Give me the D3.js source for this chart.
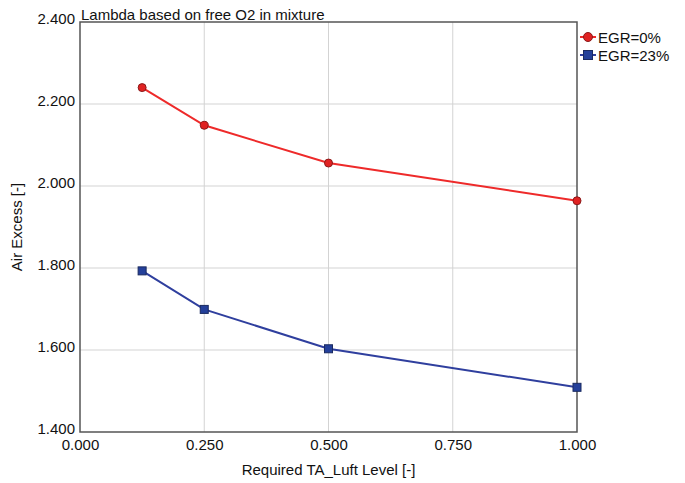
<!DOCTYPE html>
<html><head><meta charset="utf-8">
<script src="https://cdn.jsdelivr.net/npm/d3@7"></script>
<style>body{margin:0;background:#fff}svg{display:block;font-family:"Liberation Sans",Arial,sans-serif}</style>
</head><body>
<svg id="c" width="685" height="483"></svg>
<script>
const xValues = [0.125, 0.25, 0.5, 1.0];
const egr0 = [2.240, 2.148, 2.056, 1.964];
const egr23 = [1.793, 1.699, 1.603, 1.509];
const seriesNames = ["EGR=0%", "EGR=23%"];
const xTicks = [0, 0.25, 0.5, 0.75, 1.0];
const yTicks = [1.4, 1.6, 1.8, 2.0, 2.2, 2.4];

const svg = d3.select("#c");
const L = 80, R = 577, T = 22, B = 432;
const x = d3.scaleLinear().domain([0, 1]).range([L, R]);
const y = d3.scaleLinear().domain([1.4, 2.4]).range([B, T]);

// grid
svg.append("g").selectAll("line").data(xTicks.slice(1, -1)).join("line")
  .attr("x1", d => x(d)).attr("x2", d => x(d)).attr("y1", T).attr("y2", B)
  .attr("stroke", "#d3d3d3").attr("stroke-width", 1);
svg.append("g").selectAll("line").data(yTicks.slice(1, -1)).join("line")
  .attr("x1", L).attr("x2", R).attr("y1", d => y(d)).attr("y2", d => y(d))
  .attr("stroke", "#d3d3d3").attr("stroke-width", 1);

// frame
svg.append("rect").attr("x", L).attr("y", T).attr("width", R - L).attr("height", B - T)
  .attr("fill", "none").attr("stroke", "#555").attr("stroke-width", 1.5);

// axes
const xAxis = svg.append("g").attr("transform", `translate(0,${B})`)
  .call(d3.axisBottom(x).tickValues(xTicks).tickFormat(d3.format(".3f")).tickSize(0).tickPadding(7));
const yAxis = svg.append("g").attr("transform", `translate(${L},0)`)
  .call(d3.axisLeft(y).tickValues(yTicks).tickFormat(d3.format(".3f")).tickSize(0).tickPadding(5));
[xAxis, yAxis].forEach(a => {
  a.select(".domain").remove();
  a.selectAll("text").attr("font-size", 15).attr("fill", "#111").attr("font-family", "Liberation Sans, Arial, sans-serif");
});
yAxis.selectAll("text").attr("dy", "0.1em");

// titles
svg.append("text").attr("x", L + 1).attr("y", 20).attr("font-size", 15).attr("fill", "#111")
  .text("Lambda based on free O2 in mixture");
svg.append("text").attr("x", (L + R) / 2).attr("y", 475).attr("text-anchor", "middle")
  .attr("font-size", 15).attr("fill", "#111").text("Required TA_Luft Level [-]");
svg.append("text").attr("transform", `translate(22,${(T + B) / 2}) rotate(-90)`)
  .attr("text-anchor", "middle").attr("font-size", 15).attr("fill", "#111").text("Air Excess [-]");

// lines
const line = d3.line().x(d => x(d[0])).y(d => y(d[1]));
const red = "#ee2a2a", blue = "#2f3f9e";
svg.append("path").datum(d3.zip(xValues, egr0)).attr("d", line)
  .attr("fill", "none").attr("stroke", red).attr("stroke-width", 2);
svg.append("path").datum(d3.zip(xValues, egr23)).attr("d", line)
  .attr("fill", "none").attr("stroke", blue).attr("stroke-width", 2);

svg.append("g").selectAll("circle").data(d3.zip(xValues, egr0)).join("circle")
  .attr("cx", d => x(d[0])).attr("cy", d => y(d[1])).attr("r", 4)
  .attr("fill", "#e02222").attr("stroke", "#8a1a1a").attr("stroke-width", 1);
svg.append("g").selectAll("rect").data(d3.zip(xValues, egr23)).join("rect")
  .attr("x", d => x(d[0]) - 4).attr("y", d => y(d[1]) - 4).attr("width", 8).attr("height", 8)
  .attr("fill", "#24409a").attr("stroke", "#1a2a60").attr("stroke-width", 1);

// legend
const lg = svg.append("g");
const ly = [37, 55];
seriesNames.forEach((n, i) => {
  const c = i === 0 ? red : blue;
  lg.append("line").attr("x1", 580).attr("x2", 596).attr("y1", ly[i]).attr("y2", ly[i])
    .attr("stroke", c).attr("stroke-width", 2);
  if (i === 0) lg.append("circle").attr("cx", 588).attr("cy", ly[i]).attr("r", 4.5)
    .attr("fill", "#e02222").attr("stroke", "#8a1a1a");
  else lg.append("rect").attr("x", 583.5).attr("y", ly[i] - 4.5).attr("width", 9).attr("height", 9)
    .attr("fill", "#24409a").attr("stroke", "#1a2a60");
  lg.append("text").attr("x", 598).attr("y", ly[i] + 5.5).attr("font-size", 15).attr("fill", "#111").text(n);
});
</script>
</body></html>
